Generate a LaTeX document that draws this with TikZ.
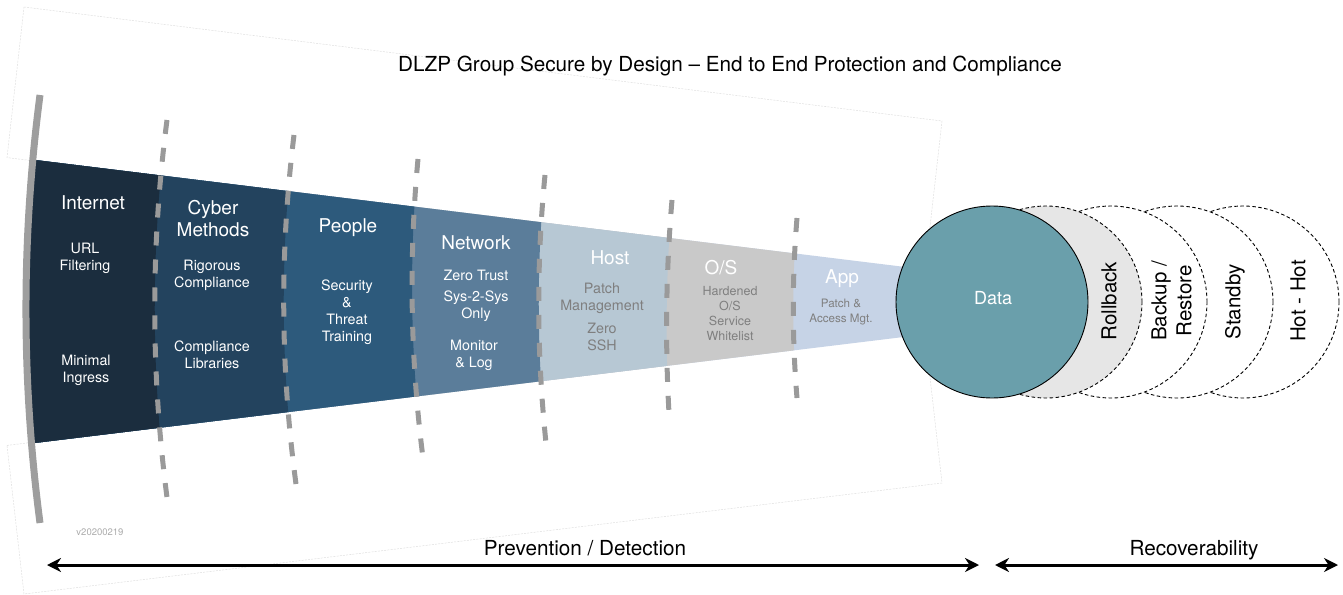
\documentclass[tikz,border=0pt]{standalone}
\usepackage{fontspec}
\setmainfont{TeX Gyre Heros}
\usetikzlibrary{arrows.meta}
\definecolor{cInt}{HTML}{1B2D3E}
\definecolor{cCyb}{HTML}{23435E}
\definecolor{cPeo}{HTML}{2D5A7C}
\definecolor{cNet}{HTML}{5B7D9A}
\definecolor{cHost}{HTML}{B7C8D4}
\definecolor{cOS}{HTML}{C9C9C9}
\definecolor{cApp}{HTML}{C6D3E6}
\definecolor{dataC}{HTML}{6A9FAB}
\definecolor{rbgray}{HTML}{E6E6E6}
\definecolor{sepgray}{HTML}{9A9A9A}
\definecolor{arcgray}{HTML}{9E9E9E}
\definecolor{subgray}{HTML}{7F7F7F}
\definecolor{vergray}{HTML}{AAAAAA}
\begin{document}
\begin{tikzpicture}[x=1pt,y=-1pt,
  faint/.style={draw=black!13, line width=0.5pt, dash pattern=on 2pt off 1.2pt},
  sepline/.style={draw=sepgray, line width=5pt, dash pattern=on 14pt off 14pt},
  head/.style={text=white, font=\fontsize{19}{22}\selectfont, align=center, inner sep=0pt},
  sub/.style={text=white, font=\fontsize{14.3}{17}\selectfont, align=center, inner sep=0pt},
  graysub/.style={sub, text=subgray},
  dcirc/.style={circle, draw=black, line width=0.9pt, dash pattern=on 3.5pt off 2.5pt, fill=white, minimum size=192pt, inner sep=0pt},
  clabel/.style={font=\fontsize{20.5}{25}\selectfont, rotate=90, align=center, inner sep=0pt},
  big/.style={font=\fontsize{20.7}{24}\selectfont, inner sep=0pt, anchor=base},
  dbl/.style={line width=3pt, {Stealth[length=14pt,width=14pt]}-{Stealth[length=14pt,width=14pt]}}
]
\useasboundingbox (0,0) rectangle (1343,594);
% faint perspective frames
\draw[faint] (24,7) -- (942,121) -- (925,270.5) -- (7,157.6) -- cycle;
\draw[faint] (7,445.4) -- (925,333.4) -- (942,483) -- (24,594) -- cycle;
% funnel sections
\begin{scope}
\clip (40,95) .. controls (21.3,238) and (21.3,380) .. (40,523) -- (1000,523) -- (1000,95) -- cycle;
\clip (10,156.9) -- (915,268.2) -- (915,335.6) -- (10,446) -- cycle;
\fill[cApp] (0,0) rectangle (1000,600);
\fill[cOS] (0,0) -- (797,0) -- (797,218) .. controls (792,278) and (792,338) .. (797,398) -- (797,600) -- (0,600) -- cycle;
\fill[cHost] (0,0) -- (672,0) -- (672,200) .. controls (666,271) and (665,342) .. (669,413) -- (669,600) -- (0,600) -- cycle;
\fill[cNet] (0,0) -- (545,0) -- (545,175) .. controls (536.3,264.3) and (536.7,353.7) .. (546,443) -- (546,600) -- (0,600) -- cycle;
\fill[cPeo] (0,0) -- (418,0) -- (418,159) .. controls (408.7,258.7) and (410.3,358.3) .. (423,458) -- (423,600) -- (0,600) -- cycle;
\fill[cCyb] (0,0) -- (294,0) -- (294,135) .. controls (279.7,251.3) and (280.3,367.7) .. (296,484) -- (296,600) -- (0,600) -- cycle;
\fill[cInt] (0,0) -- (167,0) -- (167,120) .. controls (150.3,248.3) and (150.7,376.7) .. (168,505) -- (168,600) -- (0,600) -- cycle;
\end{scope}
% separators
\draw[sepline] (167,120) .. controls (150.3,248.3) and (150.7,376.7) .. (168,505);
\draw[sepline] (294,135) .. controls (279.7,251.3) and (280.3,367.7) .. (296,484);
\draw[sepline] (418,159) .. controls (408.7,258.7) and (410.3,358.3) .. (423,458);
\draw[sepline] (545,175) .. controls (536.3,264.3) and (536.7,353.7) .. (546,443);
\draw[sepline] (672,200) .. controls (666,271) and (665,342) .. (669,413);
\draw[sepline] (797,218) .. controls (792,278) and (792,338) .. (797,398);
% left arc
\draw[draw=arcgray, line width=7pt] (40,95) .. controls (21.3,238) and (21.3,380) .. (40,523);
% funnel texts
\node[head] (tInt) at (93,203) {Internet};
\node[sub] (tInt1) at (85,258.5) {URL\\Filtering};
\node[sub] (tInt2) at (86,370.5) {Minimal\\Ingress};
\node[head] (tCyb) at (213,219) {Cyber\\Methods};
\node[sub] (tCyb1) at (212,275) {Rigorous\\Compliance};
\node[sub] (tCyb2) at (212,354.5) {Compliance\\Libraries};
\node[head] (tPeo) at (348,228) {People};
\node[sub] (tPeo1) at (347,312.5) {Security\\\&\\Threat\\Training};
\node[head] (tNet) at (476,243) {Network};
\node[sub] (tNet1) at (476,275) {Zero Trust};
\node[sub] (tNet2) at (476,306.5) {Sys-2-Sys\\Only};
\node[sub] (tNet3) at (474,355) {Monitor\\\& Log};
\node[head] (tHost) at (610,258) {Host};
\node[graysub] (tHost1) at (602,298) {Patch\\Management};
\node[graysub] (tHost2) at (602,336.5) {Zero\\SSH};
\node[head] (tOS) at (721,268) {O/S};
\node[graysub, font=\fontsize{12.5}{15}\selectfont] (tOS1) at (730,313.5) {Hardened\\O/S\\Service\\Whitelist};
\node[head] (tApp) at (842,279) {App};
\node[graysub, font=\fontsize{11.6}{14.5}\selectfont] (tApp1) at (841,312) {Patch \&\\Access Mgt.};
% recoverability circles
\node[dcirc] (hot) at (1243,302) {};
\node[dcirc] (standby) at (1177,302) {};
\node[dcirc] (backup) at (1111,302) {};
\node[dcirc, fill=rbgray] (rollback) at (1046,302) {};
\node[circle, draw=black, line width=0.9pt, fill=dataC, minimum size=192pt, inner sep=0pt] (data) at (992,302) {};
\node[text=white, font=\fontsize{18}{21}\selectfont, inner sep=0pt] (tData) at (993,298) {Data};
\node[clabel] (tRb) at (1109,301) {Rollback};
\node[clabel] (tBk) at (1171.5,301) {Backup /\\Restore};
\node[clabel] (tSb) at (1235,302) {Standby};
\node[clabel] (tHot) at (1298,301) {Hot - Hot};
% title and labels
\node[big] (title) at (730,71.5) {DLZP Group Secure by Design – End to End Protection and Compliance};
\node[text=vergray, font=\fontsize{9.5}{11}\selectfont, inner sep=0pt] (ver) at (100,532) {v20200219};
\coordinate (pl) at (47,565);
\coordinate (pr) at (979,565);
\coordinate (rl) at (995,565);
\coordinate (rr) at (1338,565);
\draw[dbl] (pl) -- (pr);
\draw[dbl] (rl) -- (rr);
\node[big] (tPrev) at (585,555.5) {Prevention / Detection};
\node[big] (tRec) at (1194,555.5) {Recoverability};
\end{tikzpicture}
\end{document}
